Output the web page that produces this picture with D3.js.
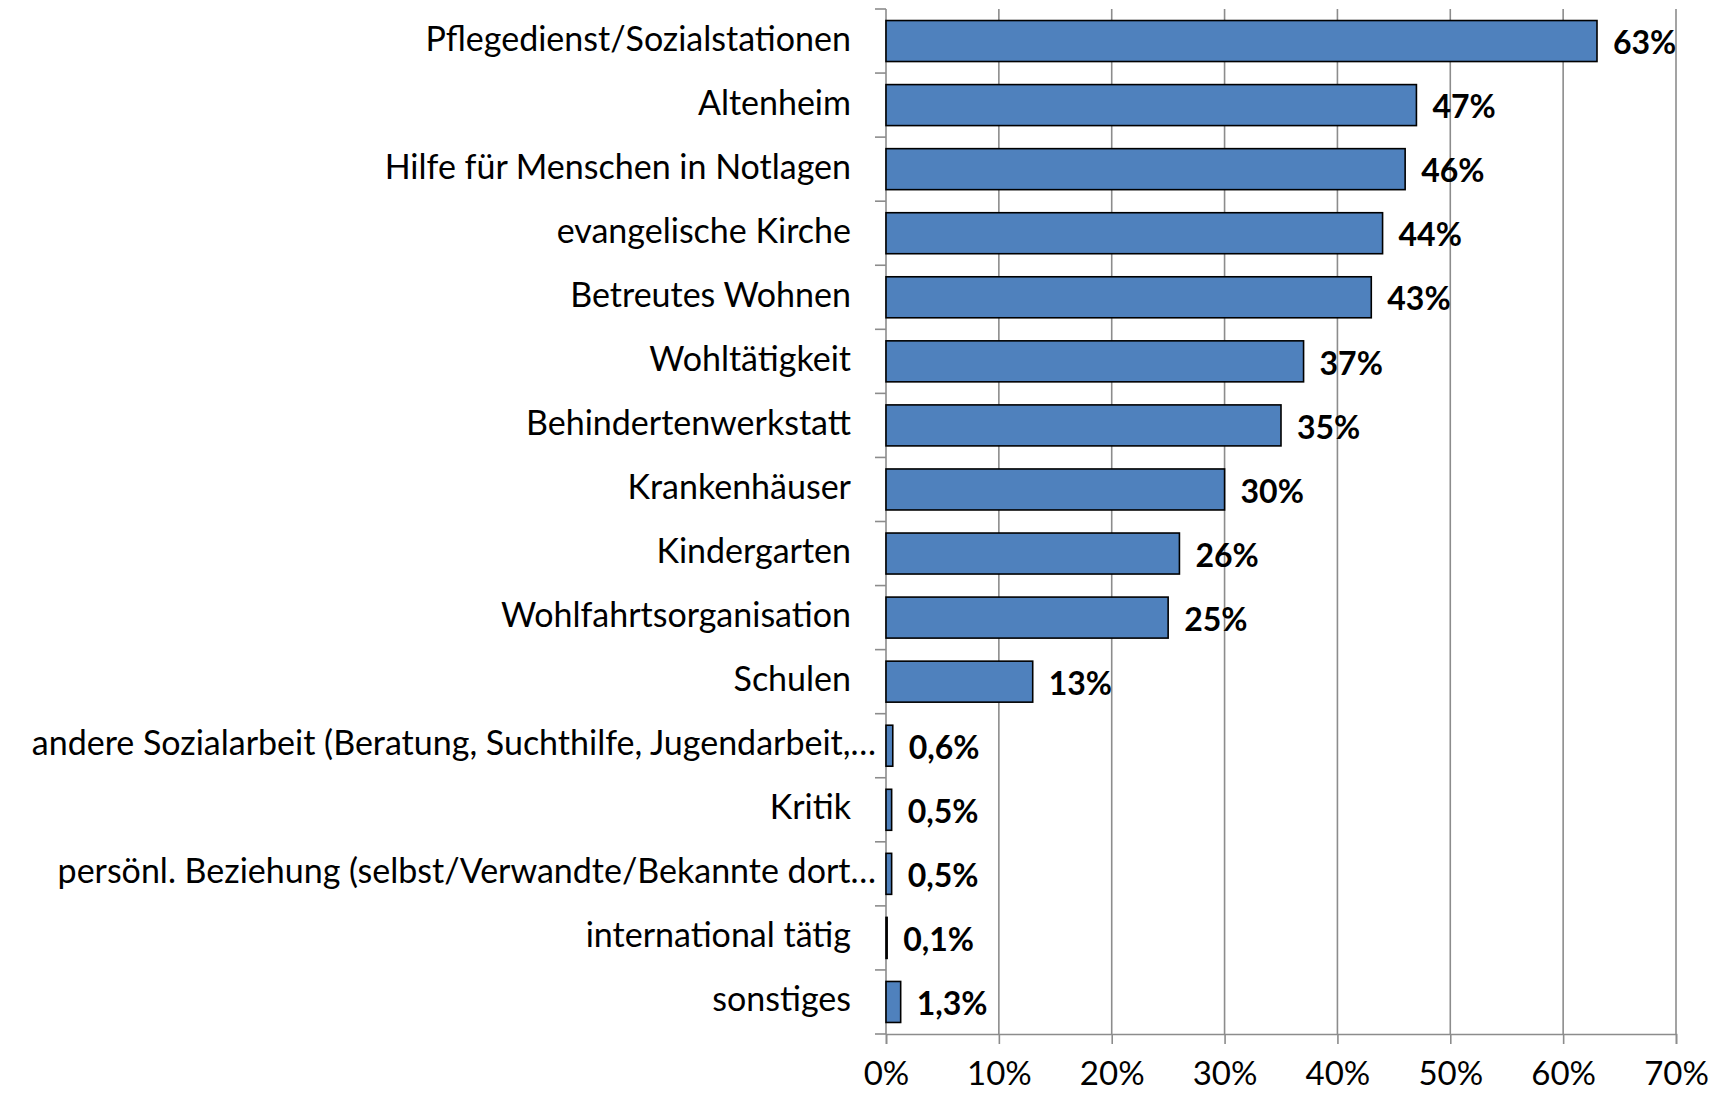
<!DOCTYPE html>
<html>
<head>
<meta charset="utf-8">
<script src="https://cdn.jsdelivr.net/npm/d3@7"></script>
<style>
  html, body { margin: 0; padding: 0; background: #fff; }
  svg { display: block; }
</style>
</head>
<body>
<svg id="chart" width="1726" height="1093"></svg>
<script>
// Categories, top to bottom
const categories = [
  "Pflegedienst/Sozialstationen",
  "Altenheim",
  "Hilfe für Menschen in Notlagen",
  "evangelische Kirche",
  "Betreutes Wohnen",
  "Wohltätigkeit",
  "Behindertenwerkstatt",
  "Krankenhäuser",
  "Kindergarten",
  "Wohlfahrtsorganisation",
  "Schulen",
  "andere Sozialarbeit (Beratung, Suchthilfe, Jugendarbeit,…",
  "Kritik",
  "persönl. Beziehung (selbst/Verwandte/Bekannte dort…",
  "international tätig",
  "sonstiges"
];

// Share of mentions, in percent
const values = [63, 47, 46, 44, 43, 37, 35, 30, 26, 25, 13, 0.6, 0.5, 0.5, 0.1, 1.3];

// Axis ticks, in percent
const xTicks = [0, 10, 20, 30, 40, 50, 60, 70];

const svg = d3.select("#chart");
const x0 = 886, x1 = 1676;
const yTop = 9, yBottom = 1034;

const font = "Lato, 'Open Sans', sans-serif";
const gridColor = "#8c8c8c";
const deLocale = d3.formatLocale({ decimal: ",", thousands: ".", grouping: [3], currency: ["", " €"] });
const fmtInt = deLocale.format(".0f");
const fmtDec = deLocale.format(".1f");
const valueLabel = v => (v >= 10 ? fmtInt(v) : fmtDec(v)) + "%";

const x = d3.scaleLinear().domain([0, 70]).range([x0, x1]);
const y = d3.scaleBand().domain(categories).range([yTop, yBottom]).paddingInner(0.36).paddingOuter(0.18);
const yOuter = d3.scaleBand().domain(categories).range([yTop, yBottom]);

// Vertical gridlines
svg.append("g")
  .selectAll("line")
  .data(xTicks.slice(1))
  .join("line")
  .attr("x1", d => x(d)).attr("x2", d => x(d))
  .attr("y1", yTop).attr("y2", yBottom)
  .attr("stroke", gridColor).attr("stroke-width", 1.6);

// Bottom axis
const xAxis = svg.append("g")
  .attr("transform", `translate(0,${yBottom})`)
  .call(d3.axisBottom(x).tickValues(xTicks).tickSize(10).tickPadding(18).tickFormat(d => d + "%"));
xAxis.select(".domain").attr("stroke", gridColor).attr("stroke-width", 1.6);
xAxis.selectAll(".tick line").attr("stroke", gridColor).attr("stroke-width", 1.6);
xAxis.selectAll(".tick text")
  .attr("fill", "#000").attr("font-family", font).attr("font-size", 33);

// Left category axis: ticks at band boundaries
const leftG = svg.append("g");
leftG.append("line")
  .attr("x1", x0).attr("x2", x0).attr("y1", yTop).attr("y2", yBottom)
  .attr("stroke", gridColor).attr("stroke-width", 1.6);
leftG.selectAll("line.tk")
  .data(categories.concat([null]))
  .join("line")
  .attr("class", "tk")
  .attr("x1", x0 - 11).attr("x2", x0)
  .attr("y1", (d, i) => i < categories.length ? yOuter(d) : yBottom)
  .attr("y2", (d, i) => i < categories.length ? yOuter(d) : yBottom)
  .attr("stroke", gridColor).attr("stroke-width", 1.6);

leftG.selectAll("text")
  .data(categories)
  .join("text")
  .attr("x", d => d.endsWith("…") ? x0 - 10 : x0 - 35)
  .attr("y", d => yOuter(d) + yOuter.bandwidth() / 2)
  .attr("dy", "0.28em")
  .attr("text-anchor", "end")
  .attr("font-family", font)
  .attr("font-size", 34)
  .attr("fill", "#000")
  .text(d => d);

// Bars
const rows = categories.map((c, i) => ({ c, v: values[i] }));
svg.append("g")
  .selectAll("rect")
  .data(rows)
  .join("rect")
  .attr("x", x(0))
  .attr("y", d => y(d.c))
  .attr("width", d => x(d.v) - x(0))
  .attr("height", y.bandwidth())
  .attr("fill", "#4f81bd")
  .attr("stroke", "#000")
  .attr("stroke-width", 1.6);

// Value labels
svg.append("g")
  .selectAll("text")
  .data(rows)
  .join("text")
  .attr("x", d => x(d.v) + 16)
  .attr("y", d => y(d.c) + y.bandwidth() / 2 + 2)
  .attr("dy", "0.35em")
  .attr("font-family", font)
  .attr("font-weight", 700)
  .attr("font-size", 32)
  .attr("fill", "#000")
  .text(d => valueLabel(d.v));
</script>
</body>
</html>
